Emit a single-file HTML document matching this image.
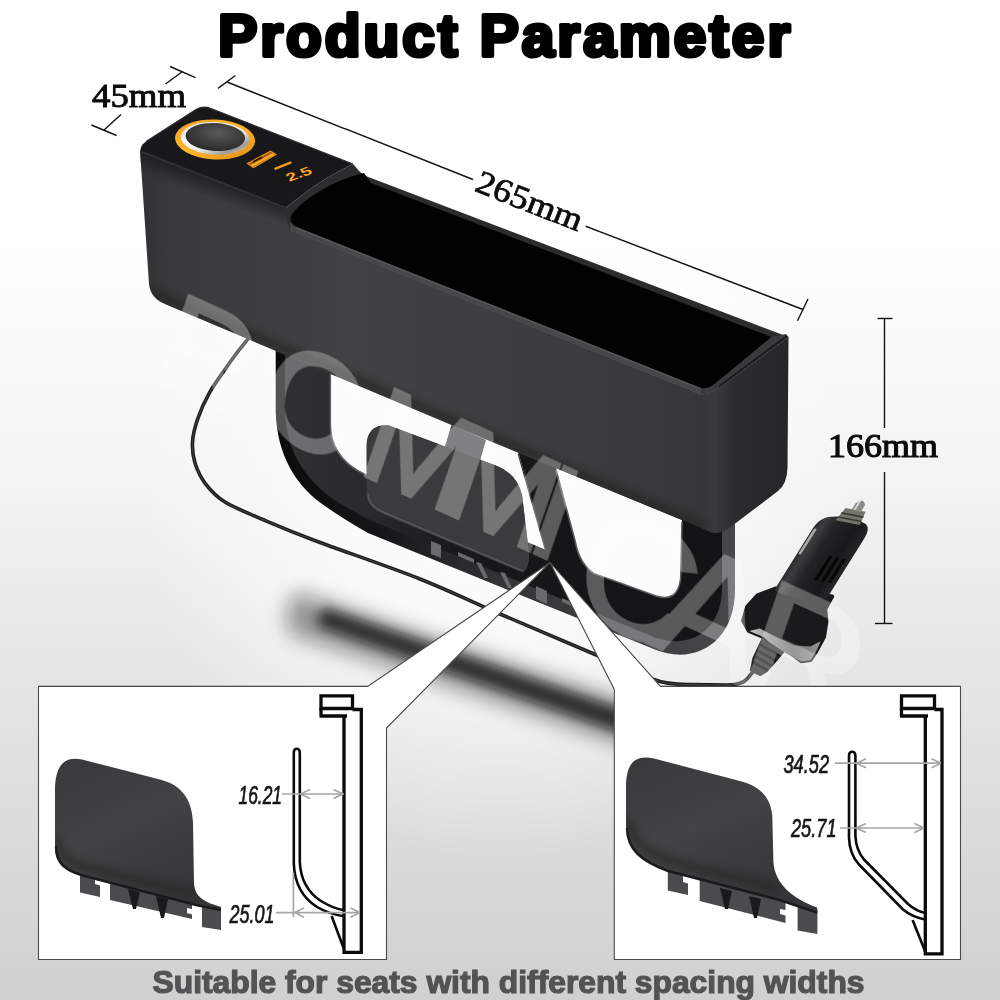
<!DOCTYPE html>
<html>
<head>
<meta charset="utf-8">
<title>Product Parameter</title>
<style>
html,body{margin:0;padding:0;background:#fff;}
body{width:1000px;height:1000px;overflow:hidden;font-family:"Liberation Sans",sans-serif;}
svg{display:block;}
.ser{font-family:"Liberation Serif",serif;}
.sans{font-family:"Liberation Sans",sans-serif;}
</style>
</head>
<body>
<svg width="1000" height="1000" viewBox="0 0 1000 1000">
<defs>
  <linearGradient id="bg" x1="0" y1="0" x2="0" y2="1000" gradientUnits="userSpaceOnUse">
    <stop offset="0" stop-color="#ffffff"/>
    <stop offset="0.22" stop-color="#ffffff"/>
    <stop offset="0.36" stop-color="#fafafa"/>
    <stop offset="0.5" stop-color="#f2f2f2"/>
    <stop offset="0.7" stop-color="#e4e4e4"/>
    <stop offset="1" stop-color="#d0d0d0"/>
  </linearGradient>
  <radialGradient id="bg2" cx="500" cy="500" r="360" gradientUnits="userSpaceOnUse">
    <stop offset="0" stop-color="#ffffff" stop-opacity="0.95"/>
    <stop offset="0.45" stop-color="#ffffff" stop-opacity="0.7"/>
    <stop offset="1" stop-color="#ffffff" stop-opacity="0"/>
  </radialGradient>
  <linearGradient id="front" x1="140" y1="0" x2="710" y2="0" gradientUnits="userSpaceOnUse">
    <stop offset="0" stop-color="#343436"/>
    <stop offset="0.35" stop-color="#414143"/>
    <stop offset="0.7" stop-color="#3a3a3c"/>
    <stop offset="1" stop-color="#2a2a2c"/>
  </linearGradient>
  <linearGradient id="endf" x1="710" y1="0" x2="790" y2="0" gradientUnits="userSpaceOnUse">
    <stop offset="0" stop-color="#333335"/>
    <stop offset="1" stop-color="#232325"/>
  </linearGradient>
  <filter id="blur8" x="-20%" y="-20%" width="140%" height="140%"><feGaussianBlur stdDeviation="6"/></filter>
  <filter id="blur12" x="-30%" y="-30%" width="160%" height="160%"><feGaussianBlur stdDeviation="10"/></filter>
  <filter id="blur3" x="-20%" y="-20%" width="140%" height="140%"><feGaussianBlur stdDeviation="3"/></filter>
</defs>

<!-- background -->
<rect width="1000" height="1000" fill="url(#bg)"/>
<rect width="1000" height="1000" fill="url(#bg2)"/>

<!-- SHADOW -->
<g id="shadow">
<path d="M298,592 L644,708 L640,750 L290,634 Q280,610 298,592 Z" fill="#101010" filter="url(#blur12)" opacity="0.42"/>
<path d="M326,608 L640,716 L637,738 L320,627 Q314,616 326,608 Z" fill="#0c0c0c" filter="url(#blur8)" opacity="0.75"/>
</g>

<!-- CABLE -->
<g id="cable" fill="none" stroke-linecap="round">
<path d="M248,339 C246.0,341.5 239.8,348.9 236,354 C232.2,359.1 229.4,362.9 225,369.4 C220.6,375.9 214.0,384.6 209.4,392.8 C204.8,401.0 200.5,410.6 197.7,418.8 C194.9,427.0 192.9,434.6 192.5,442 C192.1,449.4 192.8,456.0 195,463 C197.2,470.0 200.5,477.3 205.5,483.8 C210.5,490.3 215.2,496.0 225,502 C234.8,508.0 248.8,513.5 264,520 C279.2,526.5 290.0,531.2 316,541 C342.0,550.8 389.3,566.8 420,579 C450.7,591.2 471.0,601.5 500,614 C529.0,626.5 568.7,643.2 594,654 C619.3,664.8 642.3,674.8 652,679 Q668,685 690,684.500 L728,685 Q742,685 748,678 L756,668" stroke="#1c1c1c" stroke-width="3.600"/>
<path d="M248,339 C246.0,341.5 239.8,348.9 236,354 C232.2,359.1 229.4,362.9 225,369.4 C220.6,375.9 214.0,384.6 209.4,392.8 C204.8,401.0 200.5,410.6 197.7,418.8 C194.9,427.0 192.9,434.6 192.5,442 C192.1,449.4 192.8,456.0 195,463 C197.2,470.0 200.5,477.3 205.5,483.8 C210.5,490.3 215.2,496.0 225,502 C234.8,508.0 248.8,513.5 264,520 C279.2,526.5 290.0,531.2 316,541 C342.0,550.8 389.3,566.8 420,579 C450.7,591.2 471.0,601.5 500,614 C529.0,626.5 568.7,643.2 594,654 C619.3,664.8 642.3,674.8 652,679 Q668,685 690,684.500 L728,685 Q742,685 748,678 L756,668" stroke="#4a4a4a" stroke-width="0.900"/>
</g>

<!-- FRAME -->
<g id="frame">
<defs>
<linearGradient id="frband" x1="276" y1="0" x2="736" y2="0" gradientUnits="userSpaceOnUse">
<stop offset="0" stop-color="#0b0b0c"/><stop offset="0.22" stop-color="#161618"/><stop offset="0.5" stop-color="#353538"/><stop offset="1" stop-color="#47474a"/>
</linearGradient>
<linearGradient id="frface" x1="288" y1="0" x2="724" y2="0" gradientUnits="userSpaceOnUse">
<stop offset="0" stop-color="#303033"/><stop offset="0.18" stop-color="#2a2a2d"/><stop offset="0.4" stop-color="#18181a"/><stop offset="1" stop-color="#131315"/>
</linearGradient>
</defs>
<!-- outer silhouette (band colour) -->
<path d="M275.700,340 L275.700,412 C277,455 296,487 326.400,507 Q345,520 368,533 L655,649.6 C695,666 735,642 735,590 L735,510 L500,420 Z" fill="url(#frband)"/>
<!-- inner face -->
<path d="M285,340 L285,411 C286,450 304,478 333,499 Q350,510 372,521 L655,637.6 C690,650 722,630 722,588 L722,505 L500,420 Z" fill="url(#frface)"/>
<!-- left opening -->
<path d="M330.300,368 L518.200,452 L545.200,549.400 L366.700,475.3 Q346,466 338,452 Q330.300,440 330.300,424 Z" fill="#fcfcfc"/>
<!-- right opening -->
<path d="M556,468 L575.400,542 Q579,563 593.600,573.400 L656,596 Q678,603 680.700,578 L682,520 Z" fill="#fcfcfc"/>
<!-- inner edge highlights -->
<path d="M556,470 L575.400,542 Q579,563 593.600,573.400 L656,596 Q678,603 680.700,578 L682,522" fill="none" stroke="#5a5c5f" stroke-width="1.600"/>
<path d="M330.300,372 L330.300,424 Q330.300,440 338,452 Q346,466 366.700,475.3" fill="none" stroke="#5a5c5f" stroke-width="1.600"/>
<path d="M518.200,454 L545.200,549.400" fill="none" stroke="#3a3c3f" stroke-width="1.200"/>
<!-- clips band details -->
<g fill="#6a6a6c">
<path d="M431,541 L441,545 L441,558 L431,554 Z"/>
<path d="M458,552 L474,559 L474,563 L458,556 Z"/>
<path d="M476,562 L484,578 L488,578 L481,563 Z"/>
<path d="M500,572 L508,588 L512,588 L505,573 Z"/>
<path d="M536,586 L547,591 L547,604 L536,599 Z"/>
<path d="M562,598 L578,605 L578,609 L562,602 Z"/>
</g>
<!-- plate arm -->
<path d="M451.600,425 L485.800,440 L479.500,462 L445,447 Z" fill="#4c4c4f"/>
<!-- hook plate -->
<path d="M367,446 Q367,424 389,425.400 L497,466 Q517,474 522,495 L529,553 Q530,566 523,572.600 L384,514.600 Q367,507 367,494 Z" fill="#3b3b3d"/>
<path d="M368.500,494 Q368.500,506 385,513 L523,571" fill="none" stroke="#58585b" stroke-width="1.500"/>
</g>
<!-- plate arm -->
<path d="M451.600,425 L485.800,440 L479.500,462 L445,447 Z" fill="#4c4c4f"/>
<!-- hook plate -->
<path d="M366.500,446 Q366.500,424 389,425.400 L497,466 Q517,474 522,495 L529,553 Q530,566 523,572.600 L384,514.600 Q366.500,507 366.500,494 Z" fill="#3b3b3d"/>
<path d="M368,494 Q368,506 385,513 L523,571" fill="none" stroke="#58585b" stroke-width="1.500"/>
</g>

<!-- BOX -->
<g id="box">
<defs>
<linearGradient id="bodyg" x1="140" y1="0" x2="790" y2="0" gradientUnits="userSpaceOnUse">
<stop offset="0" stop-color="#323234"/>
<stop offset="0.05" stop-color="#39393b"/>
<stop offset="0.32" stop-color="#424244"/>
<stop offset="0.70" stop-color="#3b3b3d"/>
<stop offset="0.865" stop-color="#363638"/>
<stop offset="0.885" stop-color="#3a3a3c"/>
<stop offset="0.915" stop-color="#2c2c2e"/>
<stop offset="1" stop-color="#262628"/>
</linearGradient>
<linearGradient id="filletg" x1="200" y1="170" x2="192" y2="192" gradientUnits="userSpaceOnUse">
<stop offset="0" stop-color="#1b1b1d"/>
<stop offset="1" stop-color="#1b1b1d" stop-opacity="0"/>
</linearGradient>
<clipPath id="bodyclip"><path d="M140,150 L285,208 L701,395.0 Q712,392 719,388 L788.500,337 L787.500,468 Q787,484 778,491 L728,529 Q716,537 704,529 L480,437 L166,304.500 Q150.500,298.500 149,284 Z"/></clipPath>
</defs>
<!-- body silhouette: front + end -->
<path d="M140,150 L285,208 L701,395.0 Q712,392 719,388 L788.500,337 L787.500,468 Q787,484 778,491 L728,529 Q716,537 704,529 L480,437 L166,304.500 Q150.500,298.500 149,284 Z" fill="url(#bodyg)"/>
<!-- dark fillet band under the panel's front edge -->
<g clip-path="url(#bodyclip)">
<path d="M136,150 L285,208 L292,232.2 L136,172.1 Z" fill="url(#filletg)"/>
<!-- bottom darker shading -->
<path d="M150,292 L704,527" stroke="#222224" stroke-width="10" fill="none" filter="url(#blur3)" opacity="0.55"/>
</g>
<!-- top panel -->
<path d="M140.500,152.500 Q139.500,146 146,141.500 L196,109.500 Q203,105.500 211,108.500 L290,139.600 L353,164 Q320,180 301,196 Q289,205 285,208.500 Z" fill="#18181a"/>
<path d="M146,141.500 L196,109.500 Q203,105.500 211,108.500 L353,164" fill="none" stroke="#2e2e31" stroke-width="1.200"/>
<!-- front edge highlight of panel -->
<path d="M140.500,151.500 L285,207.500" stroke="#303033" stroke-width="2.200" fill="none"/>
<!-- pocket rim (outer) -->
<path d="M353,164 L360,172 L367,176.500 L788.500,337 L719,388 Q712,392 701,395.0 L290,231.4 L285,208.500 Q289,205 301,196 Q320,180 353,164 Z" fill="#2c2c2f"/>
<!-- front rim band -->
<path d="M290,222.4 L701,388.0 L706,389 L701,395.0 L290,231.4 Z" fill="#47474a"/>
<!-- end rim band -->
<path d="M701,395.0 Q712,392 719,388 L788.500,337 L786,334 L771.400,337 L713.800,384.600 Q708,389 701,388 Z" fill="#3a3a3d"/>
<path d="M719,386.500 L787,336" stroke="#1a1a1c" stroke-width="2" fill="none"/>
<!-- pocket interior -->
<path d="M364,173 L371,183.0 L771.400,337 L713.800,384.600 Q708,389 701,388.0 L296,226.8 Q288,222 292,214 Q300,203 320,191 Q342,178 364,173 Z" fill="#020202"/>
<!-- front inner edge highlight -->
<path d="M296,227.6 L701,388.8" stroke="#58585b" stroke-width="1.400" fill="none"/>
</g>

<g id="panel">
<defs>
<linearGradient id="org" x1="0" y1="0" x2="1" y2="1">
<stop offset="0" stop-color="#f0a020"/><stop offset="0.5" stop-color="#ffb52e"/><stop offset="1" stop-color="#e08a10"/>
</linearGradient>
<linearGradient id="silv" x1="0" y1="0" x2="1" y2="1">
<stop offset="0" stop-color="#c8c8c8"/><stop offset="0.35" stop-color="#ffffff"/><stop offset="0.6" stop-color="#e6e6e6"/><stop offset="0.8" stop-color="#9a9a9a"/><stop offset="1" stop-color="#f0f0f0"/>
</linearGradient>
<radialGradient id="disc" cx="0.55" cy="0.35" r="0.7">
<stop offset="0" stop-color="#5a5a5a"/><stop offset="0.6" stop-color="#3a3a3a"/><stop offset="1" stop-color="#262626"/>
</radialGradient>
</defs>
<ellipse cx="215.1" cy="139.5" rx="40.1" ry="20" fill="url(#org)" transform="rotate(3 215 139.5)"/>
<ellipse cx="215" cy="138.3" rx="34.3" ry="16.300" fill="url(#silv)" transform="rotate(3 215 138.3)"/>
<ellipse cx="215.3" cy="137" rx="29.8" ry="14" fill="url(#disc)" transform="rotate(3 215 137)"/>
<!-- USB-A -->
<path d="M247.5,163.500 L270.5,151.200 L276,154.600 L253.500,167.500 Z" fill="#a85a0c" stroke="#e8901a" stroke-width="1.200"/>
<path d="M251.500,165.800 L273.500,154" stroke="#ffb030" stroke-width="2.200" fill="none"/>
<path d="M253,162 L262,157.200" stroke="#2a1604" stroke-width="1.600" fill="none"/>
<!-- USB-C -->
<path d="M275.500,168.700 L290.500,162.700" stroke="#f39a1c" stroke-width="2.400" stroke-linecap="round" fill="none"/>
<!-- digits -->
<text transform="matrix(0.92,-0.33,0.45,0.6,289.500,181.800)" class="sans" font-weight="bold" font-size="17" textLength="26" lengthAdjust="spacingAndGlyphs" fill="#ffa41f">2.5</text>
</g>
<!-- PLUG -->
<defs><linearGradient id="chrome2" x1="750" y1="0" x2="822" y2="0" gradientUnits="userSpaceOnUse"><stop offset="0" stop-color="#c8c8c8"/><stop offset="0.3" stop-color="#8e8e8e"/><stop offset="0.6" stop-color="#6a6a6a"/><stop offset="1" stop-color="#9a9a9a"/></linearGradient></defs>
<g id="plugbase">
<path d="M763.9,636.0 L783.2,652.1 L775.9,660.8 L766.7,671.1 L760.2,675.1 L751.0,670.5 L753.3,658.5 Z" fill="#2a2a2c" stroke="#2a2a2c" stroke-width="2" stroke-linejoin="round"/>
<path d="M760.2,644.7 L779.3,655.1 M757.5,650.5 L775.9,660.8 M755.2,656.2 L771.7,665.9 M752.9,662.0 L767.8,670.5" stroke="#0c0c0c" stroke-width="2.600" fill="none"/>
<path d="M775.9,588.4 L757.5,595.3 L747.1,606.8 L743.2,620.6 L748.7,630.9 L764.4,637.4 L775.9,644.7 L792.0,653.9 L801.1,661.3 L810.3,660.1 L816.1,651.6 L824.1,636.7 L826.4,621.7 L825.3,609.1 L832.2,596.4 Z" fill="#1a1a1c" stroke="#1a1a1c" stroke-width="4" stroke-linejoin="round"/>
<path d="M749.4,630.9 L764.4,637.4 L769.0,642.0 L785.1,652.8 L801.1,661.5 L810.8,660.3 L816.1,651.6 L820.7,641.3 L810.3,646.6 L794.3,645.2 L775.9,636.7 L759.8,628.6 Z" fill="url(#chrome2)" stroke="none"/>
</g>
<g id="plug" transform="translate(863,500.9) rotate(32) skewY(-21)">
<defs>
<linearGradient id="plugb" x1="-28" y1="0" x2="21" y2="0" gradientUnits="userSpaceOnUse">
<stop offset="0" stop-color="#2a2a2c"/><stop offset="0.12" stop-color="#3c3c3e"/><stop offset="0.35" stop-color="#232325"/><stop offset="0.75" stop-color="#19191b"/><stop offset="1" stop-color="#262628"/>
</linearGradient>
<linearGradient id="plugf" x1="-38" y1="0" x2="36" y2="0" gradientUnits="userSpaceOnUse">
<stop offset="0" stop-color="#2c2c2e"/><stop offset="0.2" stop-color="#1e1e20"/><stop offset="0.7" stop-color="#141416"/><stop offset="1" stop-color="#232325"/>
</linearGradient>
<linearGradient id="chrome" x1="-32" y1="0" x2="32" y2="0" gradientUnits="userSpaceOnUse">
<stop offset="0" stop-color="#d0d0d0"/><stop offset="0.25" stop-color="#8a8a8a"/><stop offset="0.55" stop-color="#4a4a4a"/><stop offset="0.8" stop-color="#7a7a7a"/><stop offset="1" stop-color="#b0b0b0"/>
</linearGradient>
</defs>
<!-- main body -->
<path d="M-21,24 Q-28,28 -28,39 L-28,112 Q-3,121 21,110 L21,39 Q21,28 15,24 Q-3,17 -21,24 Z" fill="url(#plugb)"/>
<!-- grooves -->
<path d="M2,66 L2,92 M8.500,66 L8.500,92 M15,66 L15,92" stroke="#060606" stroke-width="3.200" stroke-linecap="round" fill="none"/>
<!-- side contact -->
<path d="M-25.500,40 L-25.500,68" stroke="#a8a8a8" stroke-width="2.600" stroke-linecap="round" fill="none"/>
<!-- nut -->
<path d="M-11,11 L8,11 L10,26 L-13,26 Z" fill="#74766c"/>
<path d="M-12,17 L9,17 M-12.500,22 L9.500,22" stroke="#3a3b36" stroke-width="1.800" fill="none"/>
<!-- tip -->
<path d="M-5,4 Q-1,-4 4,4 L4,12 L-5,12 Z" fill="#8c8c8a"/>
<path d="M-2.500,1 L-2.500,11" stroke="#dcdcdc" stroke-width="1.600" fill="none"/>
</g>

<!-- WATERMARK -->
<g id="wm" opacity="0.3">
<text transform="translate(176,389) skewY(24.500) scale(1,1.180) skewX(-9)" class="sans" font-style="italic" font-size="122" x="-20 84 186 268 354" fill="#ffffff" stroke="#ffffff" stroke-width="3.500">RCMMI</text>
<text transform="translate(176,428) skewY(24.500) scale(1,1.180) skewX(-9)" class="sans" font-style="italic" font-size="150" x="398 478 566" fill="#ffffff" stroke="#ffffff" stroke-width="3.500">CAR</text>
</g>

<!-- CALLOUTS -->
<g id="callouts">
<path d="M38.500,686.400 L367.600,686.400 L550,562.500 L386.500,728 L386.500,959.500 L38.500,959.500 Z" fill="#ffffff" stroke="#4a4a4a" stroke-width="1.100" stroke-linejoin="miter"/>
<path d="M550,562.500 L660.500,686.400 L960.500,686.400 L960.500,959.500 L614.300,959.500 L614.300,689.500 Z" fill="#ffffff" stroke="#4a4a4a" stroke-width="1.100" stroke-linejoin="miter"/>
</g>

<g id="details" opacity="0.999">
<defs>
<linearGradient id="plateg" x1="0" y1="0" x2="0.5" y2="1">
<stop offset="0" stop-color="#39393b"/><stop offset="0.5" stop-color="#434345"/><stop offset="1" stop-color="#353537"/>
</linearGradient>
</defs>
<clipPath id="lpc"><path d="M55,792 C55,768 62,755.500 82,759.500 L160,779.500 C182,785 192,800 193,822 L194,884 C195,897 204,902 221,907 L221,911 L196,906 L84,877 C66,872 55,865 55,848 Z"/></clipPath><clipPath id="rpc"><path d="M626,790 C626,766 632,754 654,758.500 L740,781 C763,787 771,800 772.300,816 L773.400,862 C775,884 792,898 817,907.500 L817.400,913.500 L778,900.600 L668,872 C640,862 626,850 626,828 Z"/></clipPath>
<!-- left plate -->
<g>
<g fill="#4b4b4d">
<path d="M80,868 L95,872 L95,884 L100,885.500 L100,897 L80,892.500 Z"/>
<path d="M110,876 L192,897 L192,909 L187,908 L187,913 L192,914.500 L192,919 L110,900 Z"/>
<path d="M202,904 L221,908 L221,930 L202,927 Z"/>
</g>
<path d="M128,889 L140,892 L136,909 L133,909 Z M156,896 L168,899 L164,918 L161,918 Z" fill="#1a1a1c"/>
<path d="M55,792 C55,768 62,755.500 82,759.500 L160,779.500 C182,785 192,800 193,822 L194,884 C195,897 204,902 221,907 L221,911 L196,906 L84,877 C66,872 55,865 55,848 Z" fill="url(#plateg)"/>
<path d="M56,846 C56,864 67,871 85,876 L196,905 L221,910" fill="none" stroke="#141416" stroke-width="2.500" opacity="0.8"/>
<g clip-path="url(#lpc)"><path d="M57,838 C60,858 72,863 90,868 L194,894" fill="none" stroke="#262628" stroke-width="9" opacity="0.55" filter="url(#blur3)"/></g>
</g>
<!-- right plate -->
<g>
<g fill="#4b4b4d">
<path d="M667.800,866 L683,870 L683,882 L688,883.500 L688,895 L667.800,890.500 Z"/>
<path d="M699.700,874 L785.500,897 L785.500,910 L780,909 L780,914 L785.500,915.500 L785.500,923 L699.700,901 Z"/>
<path d="M797.600,903 L817.400,909 L817.400,934 L797.600,930.500 Z"/>
</g>
<path d="M720,888 L732,891 L728,909 L725,909 Z M749,896 L761,899 L757,918 L754,918 Z" fill="#1a1a1c"/>
<path d="M626,790 C626,766 632,754 654,758.500 L740,781 C763,787 771,800 772.300,816 L773.400,862 C775,884 792,898 817,907.500 L817.400,913.500 L778,900.600 L668,872 C640,862 626,850 626,828 Z" fill="url(#plateg)"/>
<path d="M627,828 C628,850 642,861 668,871 L778,899.500 L817,912.500" fill="none" stroke="#141416" stroke-width="2.500" opacity="0.8"/>
<g clip-path="url(#rpc)"><path d="M628,818 C632,842 646,852 672,861 L776,888" fill="none" stroke="#262628" stroke-width="9" opacity="0.55" filter="url(#blur3)"/></g>
</g>
<!-- left schematic -->
<g fill="none" stroke="#0a0a0a" stroke-width="3.300" stroke-linejoin="miter">
<path d="M321,708.500 L321,695.800 L352.500,695.800 L352.500,708.500 Z" fill="#fff"/>
<path d="M352.500,709.500 L361.300,709.500 L361.300,952.300 L344,952.300 L344,716 M319.500,716 L347,716 M321,708 L321,716"/>
<path d="M293.800,753 Q293.800,748.800 296.800,748.800 Q299.800,748.800 299.800,753 L299.800,862 Q301,888 321,901 Q332,908 344,910.300" stroke-width="2.600"/>
<path d="M293.800,753 L293.800,864 Q295,893 317,907 Q329,914 344,916.300" stroke-width="2.600"/>
<path d="M331.600,916 L343.600,948" stroke-width="2.600"/>
</g>
<g fill="none" stroke="#a6a6a6" stroke-width="1.700">
<path d="M282,794 L344,794 M300.500,794 L310,789.500 M300.500,794 L310,798.500 M343,794 L333.500,789.500 M343,794 L333.500,798.500"/>
<path d="M276,912.600 L360,912.600 M294.500,912.600 L304,908 M294.500,912.600 L304,917.200 M360,912.600 L350.500,908 M360,912.600 L350.500,917.200"/>
<path d="M293.400,873 L293.400,917"/>
</g>
<text x="238.500" y="804" class="sans" font-style="italic" font-size="25" textLength="43.500" lengthAdjust="spacingAndGlyphs" fill="#161616" stroke="#161616" stroke-width="0.700">16.21</text>
<text x="229.500" y="922.500" class="sans" font-style="italic" font-size="25" textLength="45" lengthAdjust="spacingAndGlyphs" fill="#161616" stroke="#161616" stroke-width="0.700">25.01</text>

<!-- right schematic -->
<g fill="none" stroke="#0a0a0a" stroke-width="3.300" stroke-linejoin="miter">
<path d="M901.500,708.500 L901.500,695.800 L934.500,695.800 L934.500,708.500 Z" fill="#fff"/>
<path d="M934.500,709.500 L942,709.500 L942,953.800 L925.300,953.800 L925.300,716 M900,716 L928,716 M901.500,708 L901.500,716"/>
<path d="M849,756 Q849,751.800 852.200,751.800 Q855.400,751.800 855.400,756 L855.400,836 Q856,850 864,859.500 L908,904 Q916,911 925.300,913" stroke-width="2.600"/>
<path d="M849,756 L849,838 Q849.500,854 859,864.500 L903,909.500 Q912,917 925.300,919.500" stroke-width="2.600"/>
<path d="M912.600,920 L925,951" stroke-width="2.600"/>
</g>
<g fill="none" stroke="#a6a6a6" stroke-width="1.700">
<path d="M835,763.200 L941,763.200 M856.500,763.200 L866,758.700 M856.500,763.200 L866,767.700 M941,763.200 L931.500,758.700 M941,763.200 L931.500,767.700"/>
<path d="M840,828 L924,828 M856.500,828 L866,823.500 M856.500,828 L866,832.500 M924,828 L914.500,823.500 M924,828 L914.500,832.500"/>
</g>
<text x="783.500" y="772.500" class="sans" font-style="italic" font-size="25" textLength="45.500" lengthAdjust="spacingAndGlyphs" fill="#161616" stroke="#161616" stroke-width="0.700">34.52</text>
<text x="791" y="836.500" class="sans" font-style="italic" font-size="25" textLength="45.500" lengthAdjust="spacingAndGlyphs" fill="#161616" stroke="#161616" stroke-width="0.700">25.71</text>
</g>

<!-- DIMENSIONS -->
<g id="dims" stroke="#111" stroke-width="1.4" fill="none" opacity="0.999">
<!-- 45mm -->
<line x1="170" y1="66.5" x2="195.5" y2="77.6"/>
<line x1="182.5" y1="71.5" x2="165.5" y2="84"/>
<line x1="91.4" y1="125" x2="116.6" y2="135.5"/>
<line x1="104" y1="130" x2="121" y2="114.5"/>
<text x="92" y="107" class="ser" font-size="33" textLength="94" lengthAdjust="spacingAndGlyphs" fill="#0c0c0c" stroke="#0c0c0c" stroke-width="0.900">45mm</text>
<!-- 265mm -->
<line x1="218" y1="88.4" x2="235.4" y2="75.5"/>
<line x1="227" y1="82" x2="473" y2="179.500"/>
<line x1="585.75" y1="226.25" x2="803" y2="309.5"/>
<line x1="808" y1="299" x2="797.5" y2="320.75"/>
<text x="0" y="0" transform="translate(473.500,190.500) rotate(21.5)" class="ser" font-size="33" textLength="112" lengthAdjust="spacingAndGlyphs" fill="#0c0c0c" stroke="#0c0c0c" stroke-width="0.800">265mm</text>
<!-- 166mm -->
<line x1="877.5" y1="318.5" x2="892.5" y2="318.5"/>
<line x1="884.5" y1="318.5" x2="884.5" y2="428"/>
<line x1="884.5" y1="472" x2="884.5" y2="623.5"/>
<line x1="875" y1="623.5" x2="892.5" y2="623.5"/>
<text x="828" y="457" class="ser" font-size="33" textLength="110" lengthAdjust="spacingAndGlyphs" fill="#0c0c0c" stroke="#0c0c0c" stroke-width="1.100">166mm</text>
</g>

<!-- TITLE -->
<g id="title" opacity="0.999">
<text x="218.2" y="56.4" class="sans" font-weight="bold" font-size="58.5" textLength="572" lengthAdjust="spacing" fill="#000" stroke="#000" stroke-width="4.2" stroke-linejoin="round">Product Parameter</text>
</g>

<!-- CAPTION -->
<g id="caption" opacity="0.999">
<text x="152.5" y="992.5" class="sans" font-weight="bold" font-size="30.5" textLength="712" lengthAdjust="spacingAndGlyphs" fill="#535355" stroke="#535355" stroke-width="1.200">Suitable for seats with different spacing widths</text>
</g>
</svg>
</body>
</html>
